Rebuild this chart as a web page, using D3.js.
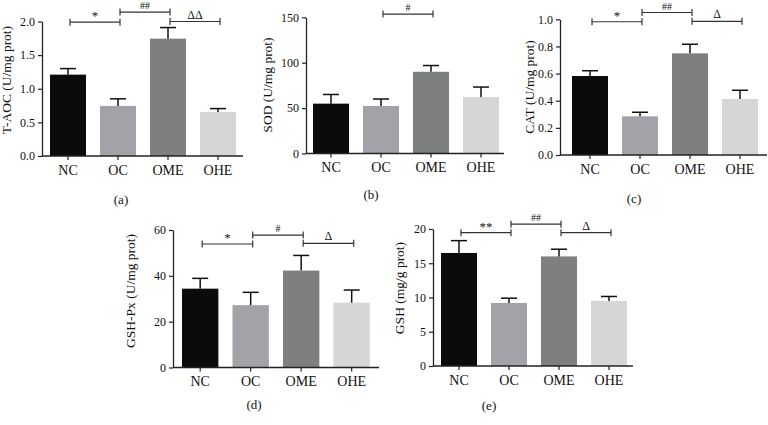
<!DOCTYPE html>
<html><head><meta charset="utf-8">
<script src="https://cdn.jsdelivr.net/npm/d3@7"></script>
<style>body{margin:0;background:#fff}svg{display:block}text{font-family:"Liberation Serif","DejaVu Serif",serif;fill:#111}</style>
</head><body><svg id="c" width="768" height="425"></svg>
<script>
// ---- data ----
const groups = ["NC", "OC", "OME", "OHE"];
const taocMean = [1.21, 0.745, 1.745, 0.655];
const taocErr  = [0.09, 0.105, 0.165, 0.05];
const taocTicks = [0, 0.5, 1.0, 1.5, 2.0];
const sodMean = [54.9, 52.3, 90.0, 62.2];
const sodErr  = [10.1, 7.7, 6.9, 11.0];
const sodTicks = [0, 50, 100, 150];
const catMean = [0.582, 0.285, 0.749, 0.413];
const catErr  = [0.039, 0.030, 0.067, 0.064];
const catTicks = [0, 0.2, 0.4, 0.6, 0.8, 1.0];
const gpxMean = [34.4, 27.2, 42.3, 28.3];
const gpxErr  = [4.5, 5.6, 6.6, 5.5];
const gpxTicks = [0, 20, 40, 60];
const gshMean = [16.5, 9.2, 16.0, 9.5];
const gshErr  = [1.8, 0.7, 1.05, 0.65];
const gshTicks = [0, 5, 10, 15, 20];
// significance brackets: [from, to, label, level]
const taocSig = [["NC","OC","*",1.99],["OC","OME","##",2.14],["OME","OHE","ΔΔ",2.0]];
const sodSig  = [["OC","OME","#",153.5]];
const catSig  = [["NC","OC","*",0.982],["OC","OME","##",1.05],["OME","OHE","Δ",0.985]];
const gpxSig  = [["NC","OC","*",53.9],["OC","OME","#",57.8],["OME","OHE","Δ",54.2]];
const gshSig  = [["NC","OC","**",19.46],["OC","OME","##",20.7],["OME","OHE","Δ",19.46]];

const colors = ["#0b0b0b", "#a2a2a8", "#7e8080", "#d6d6d6"];

const panels = [
  {mean:taocMean, err:taocErr, ticks:taocTicks, sig:taocSig, fmt:d3.format(".1f"), title:"T-AOC (U/mg prot)", label:"(a)",
   ax:42, x0:50, step:50, xEnd:243, yTop:21.5, yBot:156, tX:11, tY:80, lX:121, lY:204},
  {mean:sodMean, err:sodErr, ticks:sodTicks, sig:sodSig, fmt:d3.format("d"), title:"SOD (U/mg prot)", label:"(b)",
   ax:306, x0:313, step:50, xEnd:504, yTop:17.3, yBot:153.5, tX:272, tY:85, lX:371, lY:199},
  {mean:catMean, err:catErr, ticks:catTicks, sig:catSig, fmt:d3.format(".1f"), title:"CAT (U/mg prot)", label:"(c)",
   ax:560, x0:572, step:50, xEnd:767, yTop:19.3, yBot:155, tX:534, tY:87, lX:634, lY:203},
  {mean:gpxMean, err:gpxErr, ticks:gpxTicks, sig:gpxSig, fmt:d3.format("d"), title:"GSH-Px (U/mg prot)", label:"(d)",
   ax:173, x0:182, step:50.5, xEnd:379, yTop:230, yBot:367.5, tX:135, tY:291, lX:254, lY:409},
  {mean:gshMean, err:gshErr, ticks:gshTicks, sig:gshSig, fmt:d3.format("d"), title:"GSH (mg/g prot)", label:"(e)",
   ax:433, x0:441, step:50, xEnd:633, yTop:229, yBot:366, tX:404, tY:288, lX:489, lY:410}
];

const svg = d3.select("#c");
svg.append("rect").attr("width",768).attr("height",425).attr("fill","#fff");

panels.forEach(p => {
  const g = svg.append("g");
  const pad = 0.14 * p.step;
  const x = d3.scaleBand().domain(groups).range([p.x0 - pad, p.x0 - pad + 4 * p.step])
    .paddingInner(0.28).paddingOuter(0.14);
  const maxV = p.ticks[p.ticks.length - 1];
  const y = d3.scaleLinear().domain([0, maxV]).range([p.yBot, p.yTop]);
  const data = groups.map((k, i) => ({k, m: p.mean[i], e: p.err[i], c: colors[i]}));

  // bars
  g.selectAll("rect.bar").data(data).join("rect").attr("class","bar")
    .attr("x", d => x(d.k)).attr("width", x.bandwidth())
    .attr("y", d => y(d.m)).attr("height", d => y(0) - y(d.m))
    .attr("fill", d => d.c);
  // error bars
  const cap = 8;
  data.forEach(d => {
    const cx = x(d.k) + x.bandwidth() / 2;
    g.append("line").attr("x1", cx).attr("x2", cx).attr("y1", y(d.m)).attr("y2", y(d.m + d.e))
      .attr("stroke", "#111").attr("stroke-width", 1.5);
    g.append("line").attr("x1", cx - cap).attr("x2", cx + cap).attr("y1", y(d.m + d.e)).attr("y2", y(d.m + d.e))
      .attr("stroke", "#111").attr("stroke-width", 1.5);
  });

  // y axis
  const ya = g.append("g").attr("transform", `translate(${p.ax},0)`)
    .call(d3.axisLeft(y).tickValues(p.ticks).tickFormat(p.fmt).tickSize(4).tickSizeOuter(0).tickPadding(3));
  ya.select(".domain").attr("stroke", "#222").attr("stroke-width", 1.3);
  ya.selectAll(".tick line").attr("stroke", "#222").attr("stroke-width", 1.2);
  ya.selectAll(".tick text").style("font-size", "12px").style("font-family", '"Liberation Serif",serif').attr("fill", "#111");

  // x axis
  const xa = g.append("g").attr("transform", `translate(0,${p.yBot})`)
    .call(d3.axisBottom(x).tickSize(4).tickSizeOuter(0).tickPadding(5));
  xa.select(".domain").remove();
  xa.append("line").attr("x1", p.ax).attr("x2", p.xEnd).attr("stroke", "#222").attr("stroke-width", 1.3);
  xa.selectAll(".tick line").attr("stroke", "#222").attr("stroke-width", 1.2);
  xa.selectAll(".tick text").style("font-size", "14px").style("font-family", '"Liberation Serif",serif').attr("fill", "#111");

  // y title
  g.append("text").attr("transform", `translate(${p.tX},${p.tY}) rotate(-90)`)
    .attr("text-anchor", "middle").style("font-size", "13.5px").text(p.title);
  // panel label
  g.append("text").attr("x", p.lX).attr("y", p.lY).attr("text-anchor", "middle")
    .style("font-size", "13px").text(p.label);

  // significance brackets
  p.sig.forEach(([a, b, lab, lv]) => {
    const x1 = x(a) + x.bandwidth() / 2 + 2, x2 = x(b) + x.bandwidth() / 2 + 2, yy = y(lv);
    const col = "#333";
    g.append("line").attr("x1", x1).attr("x2", x2).attr("y1", yy).attr("y2", yy).attr("stroke", col).attr("stroke-width", 1.2);
    [x1, x2].forEach(xx => g.append("line").attr("x1", xx).attr("x2", xx).attr("y1", yy - 3.5).attr("y2", yy + 3.5)
      .attr("stroke", col).attr("stroke-width", 1.2));
    const isStar = lab.indexOf("*") >= 0;
    g.append("text").attr("x", (x1 + x2) / 2).attr("y", isStar ? yy - 2 : yy - 3).attr("text-anchor", "middle")
      .style("font-size", isStar ? "13px" : (lab.indexOf("Δ") >= 0 ? "12px" : "10px")).text(lab);
  });
});
</script></body></html>
